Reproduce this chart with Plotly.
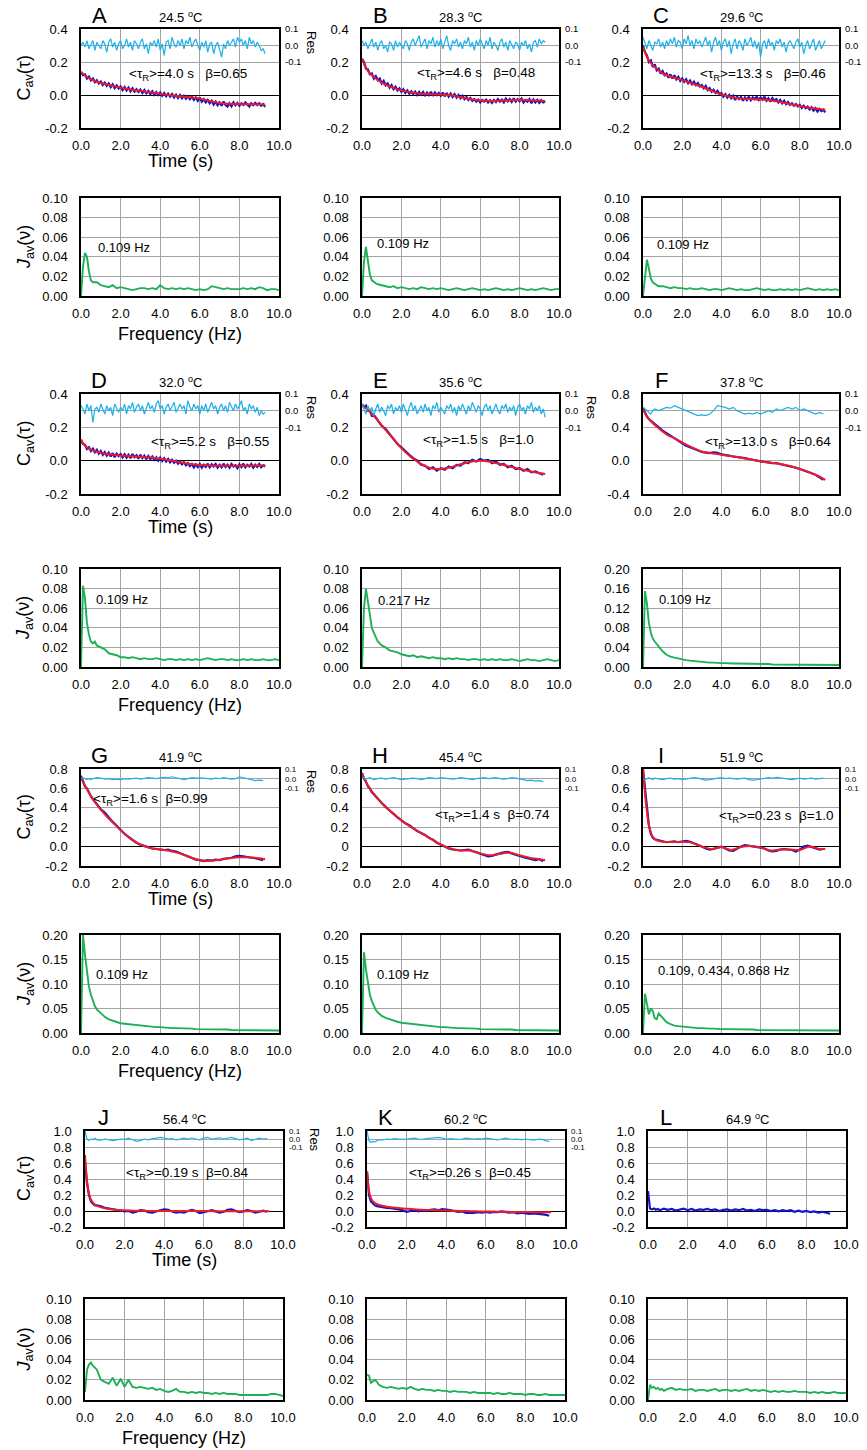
import plotly.graph_objects as go

W, H = 867, 1450
FONT = "Liberation Sans, Arial, sans-serif"

# ---------------- grids ----------------
TD = [0.0, 0.1, 0.2, 0.3, 0.4, 0.5, 0.6, 0.8, 1.0, 1.2,
      1.4, 1.6, 1.8, 2.0, 2.2, 2.4, 2.6, 2.8, 3.0, 3.2,
      3.4, 3.6, 3.8, 4.0, 4.2, 4.4, 4.6, 4.8, 5.0, 5.2,
      5.4, 5.6, 5.8, 6.0, 6.2, 6.4, 6.6, 6.8, 7.0, 7.2,
      7.4, 7.6, 7.8, 8.0, 8.2, 8.4, 8.6, 8.8, 9.0, 9.2]
TR = [0.0, 0.1, 0.2, 0.3, 0.4, 0.5, 0.6, 0.7, 0.8, 0.9,
      1.0, 1.1, 1.2, 1.3, 1.4, 1.5, 1.6, 1.7, 1.8, 1.9,
      2.0, 2.1, 2.2, 2.3, 2.4, 2.5, 2.6, 2.7, 2.8, 2.9,
      3.0, 3.1, 3.2, 3.3, 3.4, 3.5, 3.6, 3.7, 3.8, 3.9,
      4.0, 4.1, 4.2, 4.3, 4.4, 4.5, 4.6, 4.7, 4.8, 4.9,
      5.0, 5.1, 5.2, 5.3, 5.4, 5.5, 5.6, 5.7, 5.8, 5.9,
      6.0, 6.1, 6.2, 6.3, 6.4, 6.5, 6.6, 6.7, 6.8, 6.9,
      7.0, 7.1, 7.2, 7.3, 7.4, 7.5, 7.6, 7.7, 7.8, 7.9,
      8.0, 8.1, 8.2, 8.3, 8.4, 8.5, 8.6, 8.7, 8.8, 8.9,
      9.0, 9.1, 9.2, 9.3]
TF = [0.0, 0.1, 0.2, 0.3, 0.5, 0.7, 1.0, 1.3, 1.6, 2.0, 2.5, 3.0, 3.5,
      4.0, 4.5, 5.0, 5.5, 6.0, 6.5, 7.0, 7.5, 8.0, 8.5, 9.0, 9.3]
FS = [0.0, 0.1, 0.2, 0.3, 0.4, 0.5, 0.6, 0.7, 0.8,
      1.0, 1.2, 1.4, 1.6, 1.8, 2.0, 2.2, 2.4, 2.6, 2.8,
      3.0, 3.2, 3.4, 3.6, 3.8, 4.0, 4.2, 4.4, 4.6, 4.8,
      5.0, 5.2, 5.4, 5.6, 5.8, 6.0, 6.2, 6.4, 6.6, 6.8,
      7.0, 7.2, 7.4, 7.6, 7.8, 8.0, 8.2, 8.4, 8.6, 8.8,
      9.0, 9.2, 9.4, 9.6, 9.8, 10.0]

# ---------------- panel labels ----------------
LETTERS = ["A", "B", "C", "D", "E", "F", "G", "H", "I", "J", "K", "L"]
TEMPS = ["24.5", "28.3", "29.6", "32.0", "35.6", "37.8", "41.9", "45.4", "51.9", "56.4", "60.2", "64.9"]
TAUS = ["4.0", "4.6", "13.3", "5.2", "1.5", "13.0", "1.6", "1.4", "0.23", "0.19", "0.26", None]
BETAS = ["0.65", "0.48", "0.46", "0.55", "1.0", "0.64", "0.99", "0.74", "1.0", "0.84", "0.45", None]
PEAKS = ["0.109 Hz", "0.109 Hz", "0.109 Hz", "0.109 Hz", "0.217 Hz", "0.109 Hz",
         "0.109 Hz", "0.109 Hz", "0.109, 0.434, 0.868 Hz", None, None, None]
XT = [0, 2, 4, 6, 8, 10]
XT_TXT = ["0.0", "2.0", "4.0", "6.0", "8.0", "10.0"]

# ---------------- A ----------------
A_data = [0.14, 0.12, 0.125, 0.1, 0.112, 0.088, 0.1, 0.078, 0.09, 0.07,
          0.082, 0.06, 0.075, 0.055, 0.07, 0.048, 0.065, 0.042, 0.058, 0.04,
          0.052, 0.03, 0.048, 0.028, 0.045, 0.022, 0.04, 0.02, 0.035, 0.018,
          0.032, 0.012, 0.03, 0.01, 0.025, 0.005, 0.022, 0.002, 0.018, 0.0,
          0.015, -0.005, 0.012, -0.008, 0.008, -0.01, 0.006, -0.015, 0.002, -0.018,
          0.0, -0.02, -0.005, -0.022, -0.008, -0.025, -0.01, -0.03, -0.015, -0.035,
          -0.015, -0.04, -0.025, -0.045, -0.03, -0.05, -0.035, -0.058, -0.04, -0.062,
          -0.045, -0.065, -0.04, -0.06, -0.07, -0.05, -0.068, -0.045, -0.062, -0.048,
          -0.065, -0.05, -0.06, -0.045, -0.058, -0.07, -0.05, -0.062, -0.048, -0.06,
          -0.05, -0.065, -0.055, -0.072]
A_fit = [0.14, 0.128, 0.118, 0.109, 0.095, 0.085, 0.073, 0.064, 0.056, 0.045, 0.034, 0.025, 0.016,
         0.007, -0.001, -0.008, -0.014, -0.022, -0.036, -0.048, -0.053, -0.055, -0.056, -0.057, -0.058]
A_res = [0.0, 0.02, -0.01, 0.03, -0.02, 0.01, 0.03, -0.03, 0.02, 0.0,
         -0.02, 0.03, 0.01, -0.04, 0.02, 0.04, -0.01, 0.02, -0.03, 0.01,
         0.03, -0.02, 0.0, 0.04, -0.01, 0.02, -0.03, 0.03, 0.01, -0.02,
         0.02, 0.04, -0.02, 0.01, -0.05, 0.02, 0.0, 0.03, -0.01, 0.04,
         -0.03, 0.01, -0.06, 0.02, 0.03, -0.02, 0.05, 0.01, -0.01, 0.03,
         0.0, 0.04, -0.02, 0.03, 0.01, 0.05, -0.01, 0.02, 0.04, 0.0,
         -0.03, 0.02, -0.01, 0.03, -0.04, 0.01, 0.02, -0.05, 0.0, 0.02,
         -0.03, -0.07, 0.01, -0.02, 0.03, 0.0, 0.02, 0.04, -0.01, 0.05,
         0.02, 0.04, 0.0, 0.03, -0.02, 0.05, 0.01, 0.03, -0.01, 0.02,
         0.0, -0.03, -0.02, -0.05]
A_spec = [0.0, 0.03, 0.044, 0.04, 0.025, 0.016, 0.014, 0.014, 0.014,
          0.011, 0.01, 0.009, 0.011, 0.008, 0.009, 0.008, 0.007, 0.006, 0.007,
          0.008, 0.008, 0.007, 0.008, 0.007, 0.011, 0.008, 0.007, 0.008, 0.007,
          0.008, 0.007, 0.008, 0.007, 0.006, 0.007, 0.006, 0.007, 0.01, 0.009,
          0.008, 0.007, 0.008, 0.007, 0.007, 0.007, 0.008, 0.007, 0.008, 0.007,
          0.009, 0.008, 0.006, 0.007, 0.007, 0.006]

# ---------------- B ----------------
B_data = [0.22, 0.2, 0.16, 0.155, 0.125, 0.13, 0.1, 0.115, 0.09, 0.1,
          0.07, 0.085, 0.058, 0.07, 0.045, 0.06, 0.035, 0.05, 0.028, 0.04,
          0.02, 0.035, 0.012, 0.028, 0.008, 0.022, 0.005, 0.02, 0.0, 0.018,
          0.002, 0.018, -0.002, 0.015, 0.0, 0.02, -0.005, 0.015, 0.0, 0.012,
          -0.005, 0.015, -0.008, 0.012, -0.01, 0.008, -0.012, 0.005, -0.015, 0.0,
          -0.02, -0.005, -0.025, -0.012, -0.03, -0.018, -0.035, -0.025, -0.04, -0.028,
          -0.045, -0.03, -0.04, -0.028, -0.045, -0.032, -0.048, -0.03, -0.042, -0.025,
          -0.04, -0.028, -0.045, -0.022, -0.038, -0.025, -0.042, -0.02, -0.04, -0.025,
          -0.038, -0.022, -0.045, -0.03, -0.04, -0.025, -0.05, -0.028, -0.045, -0.03,
          -0.048, -0.032, -0.045, -0.04]
B_fit = [0.22, 0.19, 0.165, 0.145, 0.12, 0.1, 0.075, 0.057, 0.043, 0.028, 0.015, 0.008, 0.005,
         0.003, -0.002, -0.012, -0.025, -0.033, -0.036, -0.035, -0.032, -0.031, -0.032, -0.034, -0.036]
B_res = [0.03, 0.0, 0.02, -0.02, 0.01, 0.04, -0.01, 0.02, -0.03, 0.01,
         0.03, -0.02, 0.0, -0.04, 0.02, 0.01, -0.03, 0.03, -0.01, 0.02,
         0.0, -0.02, 0.03, 0.01, -0.03, 0.02, 0.04, 0.0, 0.03, 0.06,
         -0.01, 0.02, 0.04, -0.02, 0.03, 0.01, 0.05, -0.01, 0.03, 0.0,
         0.04, -0.02, 0.02, 0.06, 0.0, -0.03, 0.03, 0.01, 0.04, -0.01,
         0.02, -0.02, 0.03, 0.01, 0.05, -0.01, 0.02, -0.03, 0.03, 0.0,
         0.04, 0.01, -0.02, 0.03, 0.0, 0.05, -0.02, 0.02, 0.0, -0.03,
         0.02, 0.04, -0.01, 0.02, -0.03, 0.03, 0.0, -0.02, 0.02, 0.01,
         -0.03, 0.02, 0.0, 0.03, -0.02, 0.01, -0.04, 0.02, 0.03, -0.01,
         0.04, 0.01, 0.03, 0.02]
B_spec = [0.0, 0.035, 0.05, 0.035, 0.022, 0.016, 0.014, 0.013, 0.012,
          0.011, 0.01, 0.009, 0.01, 0.008, 0.009, 0.008, 0.007, 0.008, 0.007,
          0.009, 0.008, 0.007, 0.008, 0.007, 0.008, 0.007, 0.006, 0.007, 0.008,
          0.007, 0.006, 0.007, 0.008, 0.007, 0.006, 0.007, 0.006, 0.007, 0.008,
          0.007, 0.006, 0.007, 0.006, 0.007, 0.008, 0.007, 0.006, 0.007, 0.006,
          0.007, 0.008, 0.007, 0.006, 0.007, 0.007]

# ---------------- C ----------------
C_data = [0.3, 0.26, 0.24, 0.2, 0.21, 0.17, 0.185, 0.15, 0.16, 0.13,
          0.145, 0.12, 0.13, 0.105, 0.125, 0.1, 0.12, 0.095, 0.11, 0.085,
          0.1, 0.08, 0.095, 0.072, 0.088, 0.065, 0.08, 0.06, 0.072, 0.052,
          0.06, 0.04, 0.055, 0.03, 0.042, 0.02, 0.032, 0.012, 0.025, 0.005,
          0.012, -0.01, 0.005, -0.015, 0.0, -0.02, -0.005, -0.03, -0.01, -0.025,
          -0.012, -0.035, -0.015, -0.03, -0.01, -0.032, -0.015, -0.025, -0.01, -0.03,
          -0.015, -0.028, -0.01, -0.035, -0.02, -0.04, -0.018, -0.035, -0.025, -0.045,
          -0.03, -0.05, -0.035, -0.055, -0.042, -0.06, -0.05, -0.065, -0.055, -0.07,
          -0.06, -0.078, -0.065, -0.08, -0.07, -0.088, -0.075, -0.095, -0.08, -0.1,
          -0.085, -0.098, -0.09, -0.105]
C_fit = [0.29, 0.26, 0.23, 0.21, 0.18, 0.16, 0.13, 0.115, 0.105, 0.09, 0.07, 0.05, 0.025,
         0.003, -0.012, -0.022, -0.025, -0.027, -0.032, -0.042, -0.055, -0.067, -0.077, -0.085, -0.09]
C_res = [0.05, 0.01, -0.02, 0.03, 0.0, -0.03, 0.02, 0.01, 0.04, -0.01,
         0.02, -0.02, 0.03, 0.0, 0.04, 0.01, 0.05, -0.01, 0.03, 0.02,
         -0.02, 0.04, 0.01, 0.06, 0.0, 0.03, -0.02, 0.04, 0.01, 0.03,
         -0.01, 0.02, 0.05, 0.0, 0.03, -0.04, 0.02, 0.05, 0.0, 0.03,
         -0.03, 0.02, 0.04, -0.01, 0.03, -0.05, 0.01, 0.04, -0.02, 0.03,
         0.01, -0.03, 0.04, 0.0, 0.02, 0.05, -0.01, 0.03, -0.02, 0.02,
         -0.07, 0.01, 0.03, -0.02, 0.04, 0.0, 0.02, -0.03, 0.03, 0.01,
         0.04, -0.01, 0.02, -0.04, 0.01, 0.03, 0.0, -0.02, 0.02, 0.04,
         -0.01, 0.02, -0.05, 0.0, 0.03, -0.02, 0.01, 0.04, -0.03, 0.0,
         0.03, -0.02, 0.01, 0.03]
C_spec = [0.0, 0.022, 0.037, 0.028, 0.018, 0.014, 0.012, 0.011, 0.01,
          0.01, 0.009, 0.008, 0.009, 0.008, 0.008, 0.007, 0.008, 0.007, 0.007,
          0.008, 0.007, 0.006, 0.007, 0.007, 0.006, 0.007, 0.008, 0.007, 0.006,
          0.007, 0.006, 0.006, 0.007, 0.008, 0.007, 0.006, 0.007, 0.006, 0.006,
          0.007, 0.006, 0.007, 0.006, 0.007, 0.006, 0.007, 0.008, 0.007, 0.006,
          0.007, 0.006, 0.007, 0.006, 0.007, 0.006]

# ---------------- D ----------------
D_data = [0.125, 0.1, 0.095, 0.07, 0.08, 0.058, 0.072, 0.05, 0.065, 0.042,
          0.058, 0.035, 0.052, 0.03, 0.048, 0.025, 0.045, 0.02, 0.042, 0.028,
          0.04, 0.02, 0.038, 0.018, 0.035, 0.015, 0.04, 0.02, 0.032, 0.012,
          0.035, 0.015, 0.03, 0.01, 0.028, 0.008, 0.025, 0.005, 0.02, 0.0,
          0.018, -0.002, 0.015, -0.005, 0.01, -0.01, 0.005, -0.012, 0.0, -0.018,
          -0.005, -0.022, -0.01, -0.028, -0.015, -0.032, -0.02, -0.04, -0.022, -0.038,
          -0.02, -0.042, -0.025, -0.038, -0.018, -0.04, -0.022, -0.035, -0.02, -0.042,
          -0.025, -0.04, -0.018, -0.038, -0.025, -0.042, -0.02, -0.035, -0.028, -0.045,
          -0.022, -0.038, -0.018, -0.04, -0.025, -0.035, -0.02, -0.042, -0.025, -0.038,
          -0.02, -0.04, -0.028, -0.035]
D_fit = [0.125, 0.105, 0.09, 0.08, 0.066, 0.057, 0.047, 0.04, 0.036, 0.031, 0.027, 0.023, 0.019,
         0.012, 0.002, -0.01, -0.02, -0.026, -0.029, -0.031, -0.031, -0.031, -0.03, -0.029, -0.028]
D_res = [0.03, 0.01, -0.02, 0.04, 0.0, 0.03, -0.07, 0.01, 0.02, -0.01,
         0.04, 0.01, -0.02, 0.03, 0.0, 0.02, -0.03, 0.04, 0.01, -0.01,
         0.02, 0.0, 0.04, -0.02, 0.03, 0.01, 0.05, -0.01, 0.02, 0.04,
         0.0, 0.03, -0.02, 0.02, 0.05, 0.01, 0.03, -0.01, 0.04, 0.06,
         0.01, 0.03, -0.02, 0.02, 0.04, 0.0, 0.03, 0.05, -0.01, 0.02,
         0.04, 0.01, 0.03, -0.02, 0.06, 0.02, 0.0, 0.04, 0.01, 0.03,
         -0.02, 0.03, 0.0, 0.04, -0.01, 0.02, 0.05, 0.01, 0.03, -0.02,
         0.02, 0.04, 0.0, 0.03, -0.01, 0.05, 0.02, 0.0, 0.04, 0.01,
         0.03, 0.06, 0.0, 0.02, -0.02, 0.04, 0.01, 0.03, -0.01, 0.02,
         -0.03, 0.0, -0.02, -0.01]
D_spec = [0.0, 0.083, 0.07, 0.045, 0.033, 0.026, 0.024, 0.026, 0.022,
          0.02, 0.018, 0.014, 0.013, 0.012, 0.01, 0.01, 0.009, 0.01, 0.009,
          0.008, 0.009, 0.008, 0.008, 0.009, 0.008, 0.007, 0.008, 0.008, 0.007,
          0.008, 0.007, 0.008, 0.007, 0.008, 0.007, 0.008, 0.009, 0.008, 0.007,
          0.008, 0.008, 0.007, 0.008, 0.007, 0.007, 0.008, 0.007, 0.008, 0.007,
          0.007, 0.008, 0.007, 0.007, 0.008, 0.007]

# ---------------- E ----------------
E_data = [0.34, 0.32, 0.33, 0.3, 0.3, 0.27, 0.275, 0.24, 0.21, 0.19,
          0.16, 0.135, 0.1, 0.08, 0.055, 0.035, 0.015, 0.0, -0.025, -0.03,
          -0.05, -0.04, -0.06, -0.045, -0.055, -0.035, -0.045, -0.025, -0.03, -0.01,
          -0.015, 0.005, -0.005, 0.01, 0.0, 0.005, -0.015, -0.005, -0.025, -0.02,
          -0.04, -0.03, -0.05, -0.045, -0.06, -0.05, -0.07, -0.065, -0.075, -0.085]
E_fit = [0.33, 0.325, 0.315, 0.305, 0.28, 0.255, 0.21, 0.17, 0.13, 0.075, 0.02, -0.02, -0.045,
         -0.05, -0.04, -0.022, -0.006, 0.0, -0.006, -0.02, -0.035, -0.05, -0.063, -0.074, -0.08]
E_res = [0.04, 0.01, -0.02, 0.03, 0.0, 0.02, -0.03, 0.01, 0.04, -0.01,
         0.02, 0.0, -0.03, 0.03, 0.01, 0.04, -0.02, 0.02, 0.0, 0.03,
         -0.01, 0.04, 0.01, -0.03, 0.02, 0.05, 0.0, 0.03, -0.02, 0.01,
         0.03, -0.01, 0.04, 0.0, 0.02, -0.03, 0.03, 0.01, 0.05, -0.01,
         0.02, 0.0, -0.02, 0.03, 0.01, 0.04, -0.01, 0.02, -0.03, 0.03,
         0.0, 0.04, 0.01, -0.02, 0.03, 0.0, 0.05, 0.02, -0.01, 0.03,
         0.01, -0.03, 0.02, 0.04, 0.0, 0.03, -0.02, 0.01, 0.04, 0.0,
         -0.02, 0.03, 0.01, 0.04, -0.01, 0.02, 0.0, 0.03, -0.03, 0.02,
         0.04, 0.0, 0.02, -0.02, 0.03, 0.01, 0.05, -0.01, 0.02, 0.0,
         0.03, -0.02, 0.01, -0.04]
E_spec = [0.0, 0.06, 0.08, 0.065, 0.05, 0.04, 0.035, 0.03, 0.026,
          0.022, 0.02, 0.017, 0.016, 0.015, 0.013, 0.012, 0.011, 0.012, 0.01,
          0.011, 0.01, 0.009, 0.01, 0.009, 0.009, 0.008, 0.009, 0.008, 0.009,
          0.008, 0.008, 0.007, 0.008, 0.008, 0.007, 0.008, 0.007, 0.008, 0.007,
          0.008, 0.007, 0.007, 0.008, 0.007, 0.006, 0.007, 0.008, 0.007, 0.007,
          0.006, 0.007, 0.008, 0.007, 0.006, 0.007]

# ---------------- F ----------------
F_data = [0.63, 0.57, 0.53, 0.5, 0.48, 0.45, 0.43, 0.4, 0.36, 0.33,
          0.3, 0.26, 0.23, 0.2, 0.18, 0.16, 0.14, 0.12, 0.105, 0.095,
          0.09, 0.1, 0.095, 0.075, 0.07, 0.06, 0.05, 0.045, 0.035, 0.03,
          0.02, 0.01, 0.005, -0.01, -0.015, -0.02, -0.03, -0.03, -0.04, -0.05,
          -0.06, -0.07, -0.085, -0.1, -0.115, -0.13, -0.15, -0.17, -0.2, -0.23]
F_fit = [0.62, 0.57, 0.53, 0.5, 0.45, 0.41, 0.35, 0.3, 0.27, 0.22, 0.16, 0.11, 0.09,
         0.07, 0.055, 0.035, 0.015, -0.01, -0.025, -0.04, -0.065, -0.1, -0.14, -0.19, -0.23]
F_res = [0.02, 0.01, 0.0, -0.01, -0.02, 0.0, 0.01, 0.0, 0.01, 0.02,
         0.015, 0.03, 0.02, 0.01, 0.0, -0.01, -0.02, -0.03, -0.025, -0.03,
         -0.02, 0.0, 0.03, 0.025, 0.02, 0.01, 0.02, 0.0, -0.01, -0.02,
         -0.015, -0.02, -0.01, -0.02, -0.01, 0.0, -0.01, 0.01, 0.0, 0.01,
         0.02, 0.01, 0.02, 0.0, 0.01, 0.0, -0.01, -0.02, -0.01, -0.02]
F_spec = [0.0, 0.155, 0.13, 0.09, 0.07, 0.058, 0.052, 0.047, 0.04,
          0.032, 0.025, 0.021, 0.019, 0.017, 0.015, 0.014, 0.013, 0.012, 0.011,
          0.01, 0.01, 0.009, 0.009, 0.008, 0.008, 0.008, 0.007, 0.007, 0.007,
          0.007, 0.006, 0.006, 0.006, 0.006, 0.006, 0.006, 0.006, 0.005, 0.005,
          0.005, 0.005, 0.005, 0.005, 0.005, 0.005, 0.005, 0.005, 0.005, 0.005,
          0.004, 0.004, 0.004, 0.004, 0.004, 0.004]

# ---------------- G ----------------
G_data = [0.73, 0.68, 0.62, 0.6, 0.55, 0.52, 0.49, 0.44, 0.385, 0.35,
          0.3, 0.255, 0.215, 0.17, 0.13, 0.1, 0.07, 0.04, 0.02, 0.005,
          -0.01, -0.02, -0.025, -0.03, -0.035, -0.03, -0.045, -0.05, -0.07, -0.085,
          -0.1, -0.12, -0.135, -0.14, -0.15, -0.14, -0.145, -0.135, -0.14, -0.125,
          -0.12, -0.115, -0.1, -0.095, -0.1, -0.11, -0.115, -0.12, -0.13, -0.14]
G_fit = [0.72, 0.67, 0.63, 0.59, 0.52, 0.46, 0.38, 0.31, 0.25, 0.17, 0.08, 0.02, -0.015,
         -0.03, -0.045, -0.07, -0.11, -0.14, -0.145, -0.135, -0.12, -0.11, -0.11, -0.12, -0.13]
G_res = [0.0, 0.01, 0.0, -0.01, 0.0, -0.01, 0.0, 0.01, 0.005, -0.005,
         0.0, -0.01, -0.005, -0.01, 0.0, -0.005, 0.0, 0.005, -0.005, 0.0,
         0.01, 0.005, 0.0, 0.01, 0.015, 0.01, 0.02, 0.01, 0.0, -0.01,
         0.0, 0.01, 0.005, 0.01, 0.005, 0.0, -0.005, 0.005, 0.0, 0.01,
         0.0, -0.005, 0.0, 0.02, 0.01, 0.0, -0.01, -0.02, -0.015, -0.02]
G_spec = [0.0, 0.2, 0.16, 0.12, 0.095, 0.078, 0.065, 0.055, 0.048,
          0.04, 0.033, 0.028, 0.025, 0.022, 0.02, 0.019, 0.018, 0.017, 0.016,
          0.015, 0.014, 0.013, 0.013, 0.012, 0.012, 0.011, 0.011, 0.01, 0.01,
          0.01, 0.009, 0.009, 0.009, 0.008, 0.008, 0.008, 0.008, 0.007, 0.007,
          0.007, 0.007, 0.007, 0.006, 0.006, 0.006, 0.006, 0.006, 0.006, 0.006,
          0.005, 0.005, 0.005, 0.005, 0.005, 0.005]

# ---------------- H ----------------
H_data = [0.76, 0.7, 0.67, 0.62, 0.6, 0.56, 0.54, 0.49, 0.45, 0.41,
          0.37, 0.34, 0.3, 0.27, 0.24, 0.22, 0.19, 0.16, 0.14, 0.12,
          0.09, 0.07, 0.04, 0.02, 0.0, -0.02, -0.03, -0.035, -0.04, -0.035,
          -0.03, -0.045, -0.06, -0.075, -0.09, -0.1, -0.095, -0.08, -0.07, -0.06,
          -0.055, -0.07, -0.085, -0.1, -0.11, -0.12, -0.13, -0.14, -0.13, -0.15]
H_fit = [0.75, 0.71, 0.67, 0.63, 0.57, 0.52, 0.45, 0.39, 0.34, 0.27, 0.2, 0.14, 0.08,
         0.02, -0.02, -0.04, -0.04, -0.07, -0.09, -0.075, -0.06, -0.09, -0.115, -0.13, -0.14]
H_res = [0.0, 0.01, -0.005, 0.0, 0.01, 0.0, -0.01, 0.0, 0.005, -0.005,
         0.0, 0.01, 0.0, -0.01, -0.005, 0.0, 0.005, 0.0, -0.01, 0.0,
         0.01, 0.005, 0.0, 0.01, 0.005, 0.0, -0.005, 0.0, 0.01, 0.005,
         0.0, -0.01, 0.0, 0.005, 0.01, 0.0, 0.005, 0.01, 0.0, -0.005,
         0.0, 0.01, 0.005, 0.0, -0.01, -0.02, -0.015, -0.025, -0.02, -0.03]
H_spec = [0.0, 0.165, 0.13, 0.1, 0.078, 0.065, 0.055, 0.047, 0.042,
          0.035, 0.031, 0.028, 0.025, 0.023, 0.021, 0.02, 0.019, 0.018, 0.017,
          0.016, 0.015, 0.014, 0.014, 0.013, 0.012, 0.012, 0.011, 0.011, 0.01,
          0.01, 0.01, 0.009, 0.009, 0.009, 0.008, 0.008, 0.008, 0.008, 0.007,
          0.007, 0.007, 0.007, 0.007, 0.006, 0.006, 0.006, 0.006, 0.006, 0.006,
          0.006, 0.005, 0.005, 0.005, 0.005, 0.005]

# ---------------- I ----------------
I_data = [0.8, 0.6, 0.4, 0.22, 0.13, 0.09, 0.075, 0.065, 0.05, 0.045,
          0.05, 0.055, 0.045, 0.05, 0.06, 0.05, 0.035, 0.015, 0.0, -0.02,
          -0.03, -0.025, -0.01, 0.0, -0.02, -0.04, -0.045, -0.02, 0.0, 0.015,
          0.01, 0.0, -0.005, -0.01, -0.02, -0.04, -0.05, -0.045, -0.03, -0.025,
          -0.03, -0.035, -0.05, -0.03, 0.0, 0.01, -0.005, -0.02, -0.03, -0.025]
I_fit = [0.8, 0.55, 0.36, 0.22, 0.1, 0.065, 0.05, 0.047, 0.047, 0.05, 0.04, 0.0, -0.025,
         -0.005, -0.035, -0.005, 0.005, -0.01, -0.04, -0.03, -0.03, -0.035, 0.0, -0.025, -0.025]
I_res = [0.0, -0.01, 0.0, 0.01, 0.0, -0.01, 0.005, 0.0, -0.01, 0.0,
         0.005, -0.005, 0.0, -0.01, -0.005, 0.0, 0.01, 0.005, -0.005, -0.015,
         -0.01, 0.0, 0.005, 0.01, 0.0, 0.005, 0.0, -0.005, 0.0, 0.005,
         -0.01, -0.015, -0.01, -0.005, 0.0, 0.01, 0.005, 0.015, 0.01, 0.0,
         -0.005, -0.01, 0.0, 0.005, -0.005, 0.0, 0.005, -0.005, 0.0, 0.005]
I_spec = [0.0, 0.08, 0.06, 0.038, 0.05, 0.045, 0.03, 0.028, 0.04,
          0.03, 0.022, 0.018, 0.015, 0.014, 0.013, 0.012, 0.011, 0.011, 0.01,
          0.01, 0.009, 0.009, 0.009, 0.008, 0.008, 0.008, 0.008, 0.007, 0.007,
          0.007, 0.007, 0.007, 0.007, 0.006, 0.006, 0.006, 0.006, 0.006, 0.006,
          0.006, 0.006, 0.006, 0.006, 0.005, 0.005, 0.005, 0.005, 0.005, 0.005,
          0.005, 0.005, 0.005, 0.005, 0.005, 0.005]

# ---------------- J ----------------
J_data = [0.62, 0.35, 0.2, 0.12, 0.09, 0.07, 0.07, 0.06, 0.04, 0.03,
          0.02, 0.01, 0.0, -0.005, 0.0, -0.02, -0.01, 0.01, 0.005, -0.015,
          -0.02, 0.0, 0.01, 0.02, 0.015, -0.005, -0.02, -0.01, -0.02, 0.0,
          0.015, 0.0, -0.025, -0.015, 0.0, 0.01, -0.005, -0.02, -0.01, 0.015,
          0.02, 0.0, -0.015, -0.005, 0.01, 0.0, -0.02, -0.01, 0.005, -0.01]
J_fit = [0.7, 0.38, 0.22, 0.14, 0.08, 0.055, 0.035, 0.022, 0.014, 0.008, 0.004, 0.002, 0.0,
         0.0, -0.001, -0.001, -0.001, -0.001, -0.002, -0.002, -0.002, -0.002, -0.002, -0.002, -0.002]
J_res = [0.1, 0.0, -0.02, 0.0, -0.01, 0.01, -0.01, -0.015, 0.0, -0.01,
         -0.02, -0.01, 0.0, -0.005, 0.01, -0.01, -0.03, -0.02, 0.0, -0.01,
         0.005, 0.01, 0.02, 0.01, 0.0, 0.005, -0.01, 0.0, 0.01, 0.0,
         0.015, 0.0, -0.01, 0.01, 0.02, 0.0, 0.01, 0.015, 0.0, 0.01,
         0.02, 0.005, -0.01, 0.0, 0.01, -0.02, 0.0, 0.01, 0.0, 0.005]
J_spec = [0.008, 0.03, 0.035, 0.037, 0.034, 0.032, 0.03, 0.025, 0.02,
          0.018, 0.016, 0.022, 0.014, 0.021, 0.013, 0.02, 0.013, 0.012, 0.013,
          0.012, 0.011, 0.012, 0.01, 0.011, 0.009, 0.008, 0.009, 0.011, 0.008,
          0.008, 0.007, 0.008, 0.007, 0.008, 0.007, 0.007, 0.006, 0.007, 0.006,
          0.007, 0.006, 0.006, 0.006, 0.005, 0.005, 0.005, 0.005, 0.005, 0.005,
          0.005, 0.005, 0.006, 0.006, 0.005, 0.004]

# ---------------- K ----------------
K_data = [0.5, 0.2, 0.12, 0.09, 0.07, 0.06, 0.055, 0.05, 0.04, 0.035,
          0.03, 0.02, 0.01, -0.01, 0.0, 0.01, -0.005, 0.01, 0.0, 0.015,
          0.02, 0.01, 0.025, 0.02, 0.01, 0.0, -0.01, -0.005, -0.025, -0.02,
          -0.025, -0.015, -0.02, -0.01, -0.02, -0.01, -0.015, -0.005, -0.01, -0.02,
          -0.015, -0.03, -0.02, -0.025, -0.035, -0.03, -0.035, -0.04, -0.045, -0.06]
K_fit = [0.5, 0.25, 0.16, 0.12, 0.085, 0.068, 0.053, 0.044, 0.037, 0.028, 0.02, 0.014, 0.009,
         0.005, 0.002, -0.001, -0.004, -0.006, -0.008, -0.01, -0.012, -0.013, -0.015, -0.016, -0.017]
K_res = [0.1, -0.02, -0.04, -0.03, -0.035, -0.02, -0.01, -0.01, 0.0, -0.005,
         0.005, 0.0, -0.005, 0.0, 0.005, 0.01, 0.0, -0.005, 0.005, 0.01,
         0.015, 0.02, 0.01, 0.0, 0.005, 0.0, -0.005, 0.0, 0.01, 0.005,
         0.0, 0.005, 0.0, 0.01, 0.005, 0.0, -0.01, 0.0, 0.01, 0.0,
         -0.005, 0.0, -0.01, 0.0, -0.01, -0.015, -0.005, 0.0, -0.02, -0.03]
K_spec = [0.025, 0.024, 0.017, 0.019, 0.02, 0.018, 0.015, 0.014, 0.013,
          0.012, 0.013, 0.012, 0.011, 0.012, 0.011, 0.013, 0.011, 0.01, 0.011,
          0.01, 0.01, 0.009, 0.01, 0.009, 0.009, 0.008, 0.009, 0.008, 0.008,
          0.008, 0.007, 0.008, 0.007, 0.007, 0.007, 0.007, 0.006, 0.007, 0.006,
          0.006, 0.007, 0.006, 0.006, 0.006, 0.005, 0.006, 0.006, 0.005, 0.005,
          0.006, 0.005, 0.005, 0.005, 0.005, 0.005]

# ---------------- L ----------------
L_data = [0.25, 0.03, 0.02, 0.03, 0.015, 0.025, 0.01, 0.03, 0.015, 0.025,
          0.005, 0.02, 0.03, 0.01, 0.025, 0.005, 0.02, 0.015, 0.025, 0.01,
          0.02, 0.0, 0.015, 0.02, 0.005, 0.02, 0.01, 0.025, 0.005, 0.015,
          0.0, 0.02, 0.01, 0.015, 0.0, 0.01, -0.005, 0.01, 0.0, 0.01,
          -0.01, 0.005, -0.01, 0.0, -0.015, -0.005, -0.02, -0.01, -0.025, -0.035]
L_spec = [0.0, 0.015, 0.012, 0.013, 0.011, 0.012, 0.01, 0.011, 0.009,
          0.011, 0.012, 0.01, 0.011, 0.01, 0.01, 0.011, 0.009, 0.01, 0.01,
          0.009, 0.01, 0.011, 0.009, 0.01, 0.01, 0.009, 0.01, 0.009, 0.01,
          0.011, 0.009, 0.01, 0.009, 0.01, 0.009, 0.008, 0.009, 0.008, 0.009,
          0.008, 0.008, 0.009, 0.008, 0.008, 0.008, 0.007, 0.008, 0.007, 0.008,
          0.007, 0.007, 0.008, 0.007, 0.007, 0.007]

CORR = [A_data, B_data, C_data, D_data, E_data, F_data, G_data, H_data, I_data, J_data, K_data, L_data]
FITS = [A_fit, B_fit, C_fit, D_fit, E_fit, F_fit, G_fit, H_fit, I_fit, J_fit, K_fit, None]
RESS = [A_res, B_res, C_res, D_res, E_res, F_res, G_res, H_res, I_res, J_res, K_res, None]
SPECS = [A_spec, B_spec, C_spec, D_spec, E_spec, F_spec, G_spec, H_spec, I_spec, J_spec, K_spec, L_spec]

# ---------------- geometry (pixels) ----------------
COLS_X = [[(81, 279), (362, 559), (643, 839)]] * 3 + [[(85, 283), (367, 565), (648, 846)]]
CORR_Y = [(29, 128), (394, 494), (769, 866), (1131, 1227)]
SPEC_Y = [(198, 296), (569, 667), (935, 1033), (1299, 1400)]
FIT_POS = [(0.54, 0.455), (0.58, 0.45), (0.61, 0.46), (0.65, 0.48), (0.59, 0.47), (0.64, 0.48),
           (0.35, 0.31), (0.66, 0.48), (0.68, 0.49), (0.52, 0.44), (0.52, 0.44), None]
PEAK_POS = [(15, 0.51), (13, 0.46), (12, 0.47), (13, 0.31), (14, 0.32), (14, 0.31),
            (13, 0.40), (13, 0.40), (13, 0.36), None, None, None]
RES_LABEL = {0: (312, 43), 3: (312, 408), 4: (592, 408), 6: (312, 782), 9: (315, 1140)}

BLUE = "#1414c8"
RED = "#f01c24"
LBLUE = "#1cb0ea"
GREEN = "#1db055"
GRID = "#a3a3a3"


def grid_for(vals):
    return TR if len(vals) == len(TR) else TD


def fmt(vals, nd):
    out = []
    for v in vals:
        s = f"{v:.{nd}f}"
        if s.startswith("-") and float(s) == 0:
            s = s[1:]
        out.append(s)
    return out


def nm(prefix, i):
    return prefix if i == 1 else f"{prefix}{i}"


fig = go.Figure()
layout = dict(width=W, height=H, margin=dict(l=0, r=0, t=0, b=0, pad=0), template="none",
              paper_bgcolor="white", plot_bgcolor="white", showlegend=False,
              font=dict(family=FONT, color="black", size=13))
ann = []


def add_ann(text, x, y, size, **kw):
    d = dict(text=text, x=x / W, y=1 - y / H, xref="paper", yref="paper", showarrow=False,
             font=dict(size=size, family=FONT, color="black"), xanchor="center", yanchor="middle")
    d.update(kw)
    ann.append(d)


def x_axis(box, anchor):
    return dict(domain=[box[0] / W, box[1] / W], anchor=anchor, range=[0, 10], tickvals=XT,
                ticktext=XT_TXT, showgrid=True, gridcolor=GRID, gridwidth=1, zeroline=False,
                showline=True, linecolor="black", linewidth=1.5, mirror=True, ticks="",
                tickfont=dict(size=13, family=FONT), ticklabelstandoff=5, fixedrange=True)


def y_axis(yb, anchor, rng, tv, tt, zl=True, zlc="black"):
    return dict(domain=[1 - yb[1] / H, 1 - yb[0] / H], anchor=anchor, range=rng, tickvals=tv,
                ticktext=tt, showgrid=True, gridcolor=GRID, gridwidth=1, zeroline=zl,
                zerolinecolor=zlc, zerolinewidth=1.2, showline=True, linecolor="black",
                linewidth=1.5, mirror=True, ticks="", tickfont=dict(size=13, family=FONT),
                ticklabelstandoff=9, fixedrange=True)


xi = 0
yi = 0
for p in range(12):
    r, c = divmod(p, 3)
    bx = COLS_X[r][c]
    cy = CORR_Y[r]
    sy = SPEC_Y[r]

    # ---- correlation panel ----
    if r < 2 and p != 5:
        rng, tv = [-0.2, 0.4], [-0.2, 0.0, 0.2, 0.4]
    elif p == 5:
        rng, tv = [-0.4, 0.8], [-0.4, 0.0, 0.4, 0.8]
    elif r == 2:
        rng, tv = [-0.2, 0.8], [-0.2, 0.0, 0.2, 0.4, 0.6, 0.8]
    else:
        rng, tv = [-0.2, 1.0], [-0.2, 0.0, 0.2, 0.4, 0.6, 0.8, 1.0]
    tt = fmt(tv, 1)
    if p == 7:
        tt = ["0" if t == "0.0" else t for t in tt]
    xi += 1
    yi += 1
    xn, yn = nm("x", xi), nm("y", yi)
    layout[nm("xaxis", xi)] = x_axis(bx, yn)
    layout[nm("yaxis", yi)] = y_axis(cy, xn, rng, tv, tt, True, GRID if p == 5 else "black")
    d = CORR[p]
    fig.add_trace(go.Scatter(x=grid_for(d)[:len(d)], y=d, xaxis=xn, yaxis=yn, mode="lines",
                             line=dict(color=BLUE, width=2.2), hoverinfo="skip"))
    if FITS[p] is not None:
        f = FITS[p]
        fig.add_trace(go.Scatter(x=TF[:len(f)], y=f, xaxis=xn, yaxis=yn, mode="lines",
                                 line=dict(color=RED, width=2, shape="spline", smoothing=0.6),
                                 hoverinfo="skip"))
    if RESS[p] is not None:
        res_rng = [-0.5, 0.1] if r < 2 else ([-0.9, 0.1] if r == 2 else [-1.1, 0.1])
        yi += 1
        yr = nm("y", yi)
        layout[nm("yaxis", yi)] = dict(overlaying=yn, anchor=xn, side="right", range=res_rng,
                                       tickvals=[-0.1, 0.0, 0.1], ticktext=["-0.1", "0.0", "0.1"],
                                       showgrid=True, gridcolor=GRID, gridwidth=1, zeroline=False,
                                       showline=False, ticks="",
                                       tickfont=dict(size=9.5 if r < 2 else 8, family=FONT),
                                       ticklabelstandoff=5, fixedrange=True)
        rs = RESS[p]
        fig.add_trace(go.Scatter(x=grid_for(rs)[:len(rs)], y=rs, xaxis=xn, yaxis=yr, mode="lines",
                                 line=dict(color=LBLUE, width=1.2), hoverinfo="skip"))

    # ---- spectral panel ----
    if r in (0, 3) or p in (3, 4):
        srng, stv = [0, 0.1], [0.0, 0.02, 0.04, 0.06, 0.08, 0.10]
    elif p == 5:
        srng, stv = [0, 0.2], [0.0, 0.04, 0.08, 0.12, 0.16, 0.20]
    else:
        srng, stv = [0, 0.2], [0.0, 0.05, 0.10, 0.15, 0.20]
    xi += 1
    yi += 1
    xs, ys = nm("x", xi), nm("y", yi)
    layout[nm("xaxis", xi)] = x_axis(bx, ys)
    layout[nm("yaxis", yi)] = y_axis(sy, xs, srng, stv, fmt(stv, 2), False)
    s = SPECS[p]
    fig.add_trace(go.Scatter(x=FS[:len(s)], y=s, xaxis=xs, yaxis=ys, mode="lines",
                             line=dict(color=GREEN, width=1.9), hoverinfo="skip"))

    # ---- texts ----
    add_ann(LETTERS[p], bx[0] + 18, cy[0] - 14, 22)
    add_ann(TEMPS[p] + " <sup>o</sup>C", (bx[0] + bx[1]) / 2, cy[0] - 12, 13)
    if TAUS[p] is not None:
        gap = "\u00a0" * (3 if r < 2 else 2)
        txt = "&lt;τ<sub>R</sub>&gt;=" + TAUS[p] + " s" + gap + "β=" + BETAS[p]
        fx, fy = FIT_POS[p]
        add_ann(txt, bx[0] + fx * (bx[1] - bx[0]), cy[0] + fy * (cy[1] - cy[0]), 13.5)
    if PEAKS[p] is not None:
        ox, fy = PEAK_POS[p]
        add_ann(PEAKS[p], bx[0] + ox, sy[0] + fy * (sy[1] - sy[0]), 13, xanchor="left")
    if p in RES_LABEL:
        rx, ry = RES_LABEL[p]
        add_ann("Res", rx, ry, 13, textangle=90)
    if c == 0:
        cxm = (bx[0] + bx[1]) / 2
        add_ann("C<sub>av</sub>(τ)", 25, (cy[0] + cy[1]) / 2, 18, textangle=-90)
        add_ann("<i>J</i><sub>av</sub>(ν)", 25, (sy[0] + sy[1]) / 2, 18, textangle=-90)
        add_ann("Time (s)", cxm, cy[1] + 33, 18)
        add_ann("Frequency (Hz)", cxm, sy[1] + 38, 18)

layout["annotations"] = ann
fig.update_layout(**layout)
fig.write_html("out.html")
